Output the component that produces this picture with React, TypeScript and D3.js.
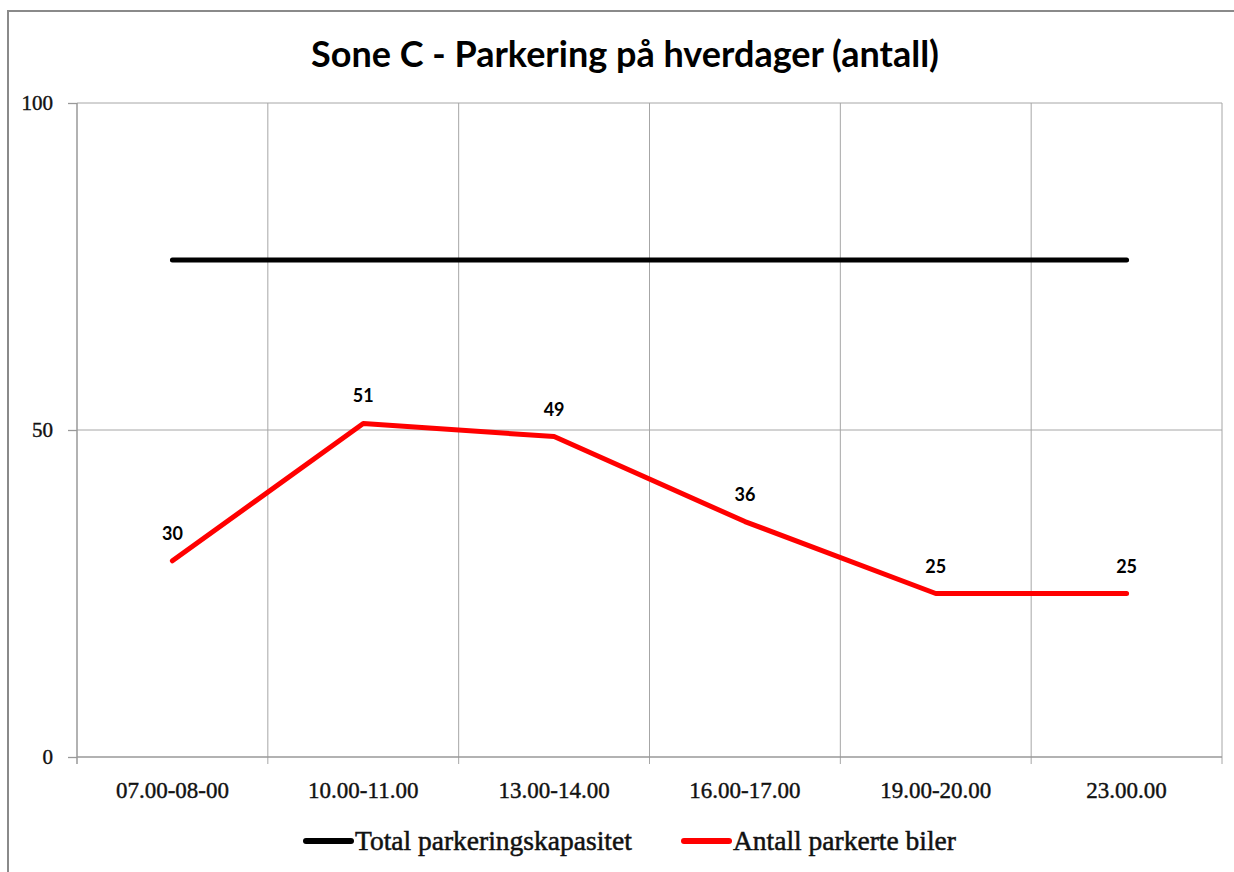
import * as d3 from "d3";
import * as React from "react";

const categories = ["07.00-08-00", "10.00-11.00", "13.00-14.00", "16.00-17.00", "19.00-20.00", "23.00.00"];
const capacity = [76, 76, 76, 76, 76, 76];
const parked = [30, 51, 49, 36, 25, 25];
const yTicks = [0, 50, 100];
const seriesNames = ["Total parkeringskapasitet", "Antall parkerte biler"];
const seriesColors = ["#000000", "#ff0000"];

export default function App() {
  const ref = React.useRef<SVGSVGElement>(null);

  React.useEffect(() => {
    const width = 1234;
    const height = 872;
    const margin = { top: 103, right: 12, bottom: 115, left: 77 };
    const serif = "'Liberation Serif', 'Times New Roman', serif";
    const sans = "Lato, 'Noto Sans', sans-serif";
    const grid = "#a6a6a6";

    const svg = d3.select(ref.current);
    svg.selectAll("*").remove();

    // outer chart border
    svg
      .append("rect")
      .attr("x", 8)
      .attr("y", 11)
      .attr("width", width)
      .attr("height", height)
      .attr("fill", "white")
      .attr("stroke", "#8a8a8a")
      .attr("stroke-width", 2);

    const x = d3
      .scaleBand()
      .domain(categories)
      .range([margin.left, width - margin.right])
      .padding(0);
    const cx = (c: string) => (x(c) as number) + x.bandwidth() / 2;

    const y = d3
      .scaleLinear()
      .domain([0, 100])
      .range([height - margin.bottom, margin.top]);

    svg
      .append("text")
      .attr("x", 625)
      .attr("y", 67)
      .attr("text-anchor", "middle")
      .attr("font-family", sans)
      .attr("font-weight", "bold")
      .attr("font-size", 36)
      .text("Sone C - Parkering på hverdager (antall)");

    // horizontal gridlines
    svg
      .append("g")
      .selectAll("line")
      .data(yTicks.filter((d) => d > 0))
      .join("line")
      .attr("x1", margin.left)
      .attr("x2", width - margin.right)
      .attr("y1", (d) => y(d))
      .attr("y2", (d) => y(d))
      .attr("stroke", grid)
      .attr("stroke-width", 1);

    // vertical gridlines at category boundaries (extend below as ticks)
    const bounds = categories.slice(1).map((c) => x(c) as number).concat([width - margin.right]);
    svg
      .append("g")
      .selectAll("line")
      .data(bounds)
      .join("line")
      .attr("x1", (d) => d)
      .attr("x2", (d) => d)
      .attr("y1", y(100))
      .attr("y2", y(0) + 7)
      .attr("stroke", grid)
      .attr("stroke-width", 1);

    // y axis
    const yAxis = svg
      .append("g")
      .attr("transform", `translate(${margin.left},0)`)
      .call(d3.axisLeft(y).tickValues(yTicks).tickSize(9).tickPadding(15));
    yAxis.select(".domain").remove();
    yAxis.selectAll(".tick line").attr("stroke", "#999").attr("stroke-width", 1.3);
    yAxis
      .selectAll(".tick text")
      .attr("font-family", serif)
      .attr("font-size", 21)
      .attr("stroke", "#111")
      .attr("stroke-width", 0.4)
      .attr("fill", "#111");
    svg
      .append("line")
      .attr("x1", margin.left)
      .attr("x2", margin.left)
      .attr("y1", y(100))
      .attr("y2", y(0) + 7)
      .attr("stroke", "#999")
      .attr("stroke-width", 1.5);

    // x axis
    const xAxis = svg
      .append("g")
      .attr("transform", `translate(0,${y(0)})`)
      .call(d3.axisBottom(x).tickSize(0).tickPadding(25));
    xAxis.select(".domain").remove();
    xAxis
      .selectAll(".tick text")
      .attr("font-family", serif)
      .attr("font-size", 23)
      .attr("stroke", "#111")
      .attr("stroke-width", 0.4)
      .attr("fill", "#111");
    svg
      .append("line")
      .attr("x1", margin.left)
      .attr("x2", width - margin.right)
      .attr("y1", y(0))
      .attr("y2", y(0))
      .attr("stroke", "#999")
      .attr("stroke-width", 1.5);

    const line = d3
      .line<number>()
      .x((d, i) => cx(categories[i]))
      .y((d) => y(d));

    [capacity, parked].forEach((s, k) => {
      svg
        .append("path")
        .datum(s)
        .attr("fill", "none")
        .attr("stroke", seriesColors[k])
        .attr("stroke-width", 5)
        .attr("stroke-linejoin", "round")
        .attr("stroke-linecap", "round")
        .attr("d", line);
    });

    // data labels for parked cars
    svg
      .append("g")
      .selectAll("text")
      .data(parked)
      .join("text")
      .attr("x", (d, i) => cx(categories[i]))
      .attr("y", (d) => y(d) - 21)
      .attr("text-anchor", "middle")
      .attr("font-family", sans)
      .attr("font-weight", "bold")
      .attr("font-size", 18)
      .text((d) => d);

    // legend
    const legendX = [306, 684];
    const legend = svg
      .append("g")
      .selectAll("g")
      .data(seriesNames)
      .join("g")
      .attr("transform", (d, i) => `translate(${legendX[i]},841)`);
    legend
      .append("line")
      .attr("x1", 0)
      .attr("x2", 45)
      .attr("stroke", (d, i) => seriesColors[i])
      .attr("stroke-width", 6)
      .attr("stroke-linecap", "round");
    legend
      .append("text")
      .attr("x", 49)
      .attr("y", 9)
      .attr("font-family", serif)
      .attr("font-size", 27.5)
      .attr("stroke", "#111")
      .attr("stroke-width", 0.5)
      .attr("fill", "#111")
      .text((d) => d);
  }, []);

  return (
    <svg
      ref={ref}
      width={1234}
      height={872}
      style={{ position: "absolute", left: 0, top: 0, background: "white" }}
    />
  );
}
